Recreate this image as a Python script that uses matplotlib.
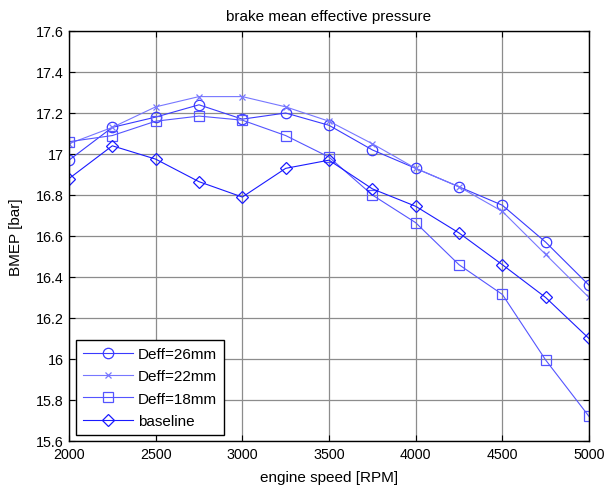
import matplotlib
matplotlib.use("Agg")
import matplotlib.pyplot as plt

plt.rcParams['font.family'] = ['Liberation Sans', 'DejaVu Sans']

rpm = [2000, 2250, 2500, 2750, 3000, 3250, 3500, 3750, 4000, 4250, 4500, 4750, 5000]
deff26 = [16.97, 17.13, 17.18, 17.24, 17.17, 17.20, 17.14, 17.02, 16.93, 16.84, 16.75, 16.57, 16.36]
deff22 = [17.05, 17.13, 17.23, 17.28, 17.28, 17.23, 17.16, 17.05, 16.93, 16.84, 16.72, 16.51, 16.30]
deff18 = [17.06, 17.09, 17.16, 17.185, 17.165, 17.09, 16.985, 16.80, 16.665, 16.46, 16.315, 15.995, 15.72]
baseline = [16.88, 17.04, 16.975, 16.865, 16.79, 16.93, 16.97, 16.83, 16.745, 16.615, 16.46, 16.30, 16.10]

xticks = [2000, 2500, 3000, 3500, 4000, 4500, 5000]
yticks = [15.6, 15.8, 16.0, 16.2, 16.4, 16.6, 16.8, 17.0, 17.2, 17.4, 17.6]
ytick_labels = ['15.6', '15.8', '16', '16.2', '16.4', '16.6', '16.8', '17', '17.2', '17.4', '17.6']

fig = plt.figure(figsize=(6.07, 4.89), dpi=100)
ax = fig.add_axes([69/607, 1-442/489, 520/607, 410/489])

lw = 0.8
ax.plot(rpm, deff26, color='#3a3aff', lw=lw, marker='o', ms=7.5, mfc='none', mew=0.9, label='Deff=26mm')
ax.plot(rpm, deff22, color='#7777ff', lw=lw, marker='x', ms=4, mew=0.9, label='Deff=22mm')
ax.plot(rpm, deff18, color='#5555ff', lw=lw, marker='s', ms=7.5, mfc='none', mew=0.9, label='Deff=18mm')
ax.plot(rpm, baseline, color='#1a1aff', lw=lw, marker='D', ms=6.5, mfc='none', mew=0.9, label='baseline')

ax.set_xlim(2000, 5000)
ax.set_ylim(15.6, 17.6)
ax.set_xticks(xticks)
ax.set_yticks(yticks)
ax.set_yticklabels(ytick_labels)
ax.grid(True, color='#8c8c8c', lw=0.9)
ax.set_axisbelow(True)
ax.tick_params(direction='in', top=True, right=True, labelsize=10.3, length=4, width=0.8, pad=4)
for s in ax.spines.values():
    s.set_linewidth(1.0)
ax.set_xlabel('engine speed [RPM]', fontsize=11, labelpad=7)
ax.set_ylabel('BMEP [bar]', fontsize=11, labelpad=9)
ax.set_title('brake mean effective pressure', fontsize=11, pad=8)

leg = ax.legend(loc='lower left', bbox_to_anchor=(0.0135, 0.0146), fontsize=11, frameon=True,
                fancybox=False, edgecolor='black', framealpha=1, borderpad=0.45, handlelength=3.3,
                handletextpad=0.3, labelspacing=0.55, borderaxespad=0)
leg.get_frame().set_linewidth(1.0)

fig.savefig('out.png', dpi=100)
